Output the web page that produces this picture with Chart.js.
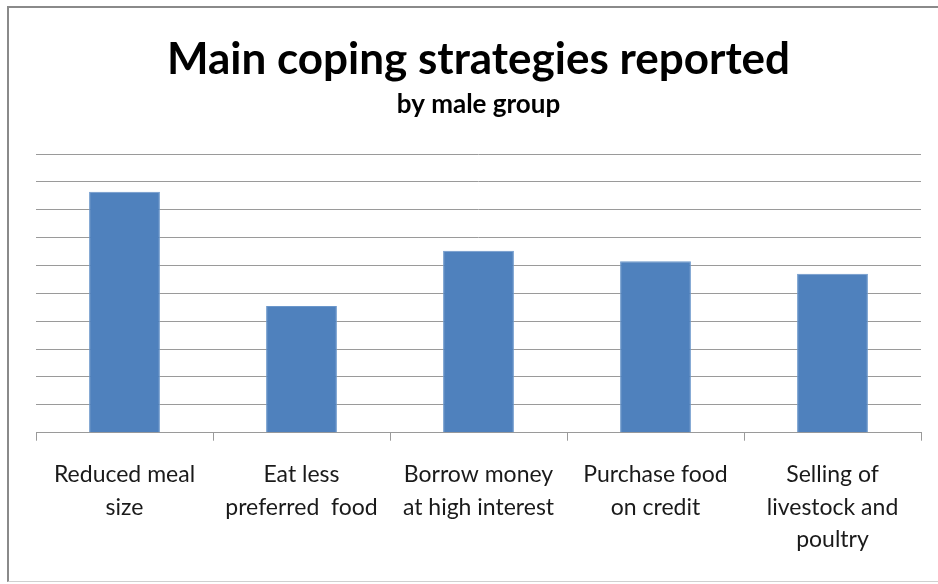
<!DOCTYPE html>
<html>
<head>
<meta charset="utf-8">
<title>Main coping strategies reported</title>
<script src="https://cdn.jsdelivr.net/npm/chart.js@4.4.0/dist/chart.umd.min.js"></script>
<style>
  html, body { margin: 0; padding: 0; background: #fff; overflow: hidden; }
  #wrap { position: relative; width: 938px; height: 584px; }
  #frame {
    position: absolute; left: 7px; top: 6px; width: 960px; height: 576px;
    border-left: 2px solid #8a8a8a; border-top: 2px solid #8a8a8a;
    border-bottom: 1px solid #d0d0d0; box-sizing: border-box;
  }
  canvas { position: absolute; left: 0; top: 0; }
</style>
</head>
<body>
<div id="wrap">
  <div id="frame"></div>
  <canvas id="chart" width="938" height="584"></canvas>
</div>
<script>
// Strategies on the x axis (multi-line labels)
const strategies = [
  ["Reduced meal", "size"],
  ["Eat less", "preferred  food"],
  ["Borrow money", "at high interest"],
  ["Purchase food", "on credit"],
  ["Selling of", "livestock and", "poultry"]
];

// Reported values for the male group
const maleValues = [8.65, 4.55, 6.53, 6.15, 5.7];

const gridGray = "#9a9a9a";
const fontFamily = "Lato, 'Open Sans', sans-serif";

const ctx = document.getElementById("chart");

new Chart(ctx, {
  type: "bar",
  data: {
    labels: strategies,
    datasets: [
      {
        label: "Male group",
        data: maleValues,
        backgroundColor: "#4f81bd",
        borderColor: "#6b97cb",
        borderWidth: 1,
        barPercentage: 0.4,
        categoryPercentage: 1.0,
      },
    ],
  },
  options: {
    responsive: false,
    animation: false,
    layout: {
      padding: { left: 36, right: 17, top: 16, bottom: 10 },
    },
    plugins: {
      legend: { display: false },
      tooltip: { enabled: false },
      title: {
        display: true,
        text: "Main coping strategies reported",
        color: "#000",
        font: { family: fontFamily, size: 44, weight: "bold", lineHeight: 1.2 },
        padding: { top: 17, bottom: 0 },
      },
      subtitle: {
        display: true,
        text: "by male group",
        color: "#000",
        font: { family: fontFamily, size: 26, weight: "bold", lineHeight: 1.2 },
        padding: { top: 3, bottom: 34 },
      },
    },
    scales: {
      x: {
        offset: true,
        grid: {
          display: true,
          drawOnChartArea: false,
          drawTicks: true,
          tickLength: 8,
          color: gridGray,
        },
        border: { display: true, color: gridGray },
        ticks: {
          color: "#1a1a1a",
          padding: 18,
          maxRotation: 0,
          autoSkip: false,
          font: { family: fontFamily, size: 23, lineHeight: 1.41 },
        },
      },
      y: {
        min: 0,
        max: 10,
        ticks: { display: false, stepSize: 1 },
        grid: { color: gridGray, drawTicks: false },
        border: { display: false },
      },
    },
  },
});
</script>
</body>
</html>
